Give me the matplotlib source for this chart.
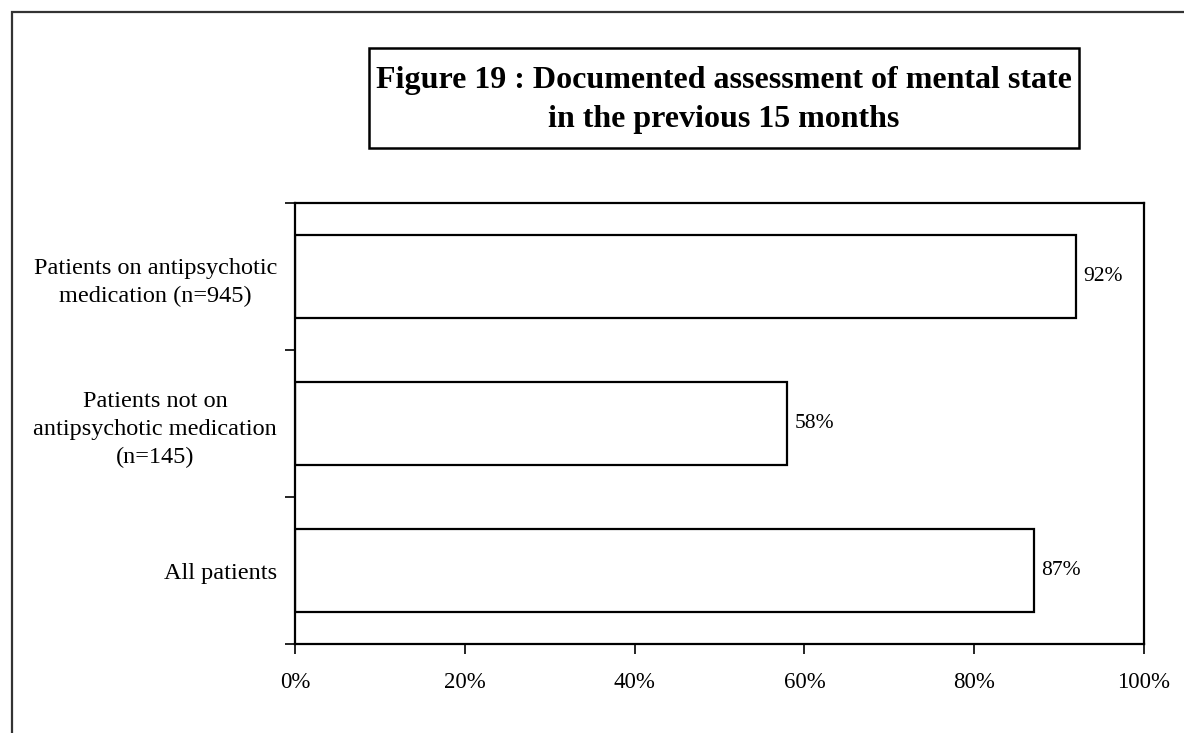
import matplotlib.pyplot as plt
from matplotlib.patches import Rectangle
from matplotlib.ticker import FuncFormatter

# data
categories = [
    "All patients",
    "Patients not on\nantipsychotic medication\n(n=145)",
    "Patients on antipsychotic\nmedication (n=945)",
]
values = [87, 58, 92]
x_ticks = [0, 20, 40, 60, 80, 100]
title_lines = "Figure 19 : Documented assessment of mental state\nin the previous 15 months"

W, H = 1184, 733
plt.rcParams["font.family"] = ["Liberation Serif", "DejaVu Serif"]

fig = plt.figure(figsize=(W / 100, H / 100), dpi=100)

# outer frame (runs off the right and bottom edges)
fig.add_artist(Rectangle((12 / W, -0.05), 1.1, 1 - 12 / H + 0.05,
                         transform=fig.transFigure, fill=False,
                         edgecolor="#333333", linewidth=1.6, clip_on=False))

# title box
bx0, bx1, by0, by1 = 369, 1079, 48, 148
fig.add_artist(Rectangle((bx0 / W, 1 - by1 / H), (bx1 - bx0) / W, (by1 - by0) / H,
                         transform=fig.transFigure, fill=False,
                         edgecolor="black", linewidth=1.8))
fig.text((bx0 + bx1) / 2 / W, 1 - 100 / H, title_lines, ha="center", va="center",
         fontsize=23, fontweight="bold", linespacing=1.45)

# plot area
ax = fig.add_axes([295 / W, 1 - 644 / H, (1144 - 295) / W, (644 - 203) / H])
pos = range(len(categories))
bars = ax.barh(pos, values, height=0.56, color="white", edgecolor="black", linewidth=1.6)

for b, v in zip(bars, values):
    ax.text(v + 0.9, b.get_y() + b.get_height() / 2, f"{v}%",
            ha="left", va="center", fontsize=15.5)

ax.set_xlim(0, 100)
ax.set_ylim(-0.5, len(categories) - 0.5)
ax.set_xticks(x_ticks)
ax.xaxis.set_major_formatter(FuncFormatter(lambda v, p: f"{v:.0f}%"))

# category labels sit between the boundary ticks
ax.set_yticks([i - 0.5 for i in range(len(categories) + 1)])
ax.set_yticklabels([])
ax.set_yticks(list(pos), minor=True)
ax.set_yticklabels(categories, minor=True, fontsize=17.5, linespacing=1.42,
                   multialignment="center")
ax.tick_params(axis="y", which="minor", length=0, pad=13)
ax.tick_params(axis="y", which="major", length=7, width=1.2, direction="out")
ax.tick_params(axis="x", length=7, width=1.2, direction="out", pad=13, labelsize=16.5)

for s in ax.spines.values():
    s.set_linewidth(1.6)

fig.savefig("out.png", dpi=100)
